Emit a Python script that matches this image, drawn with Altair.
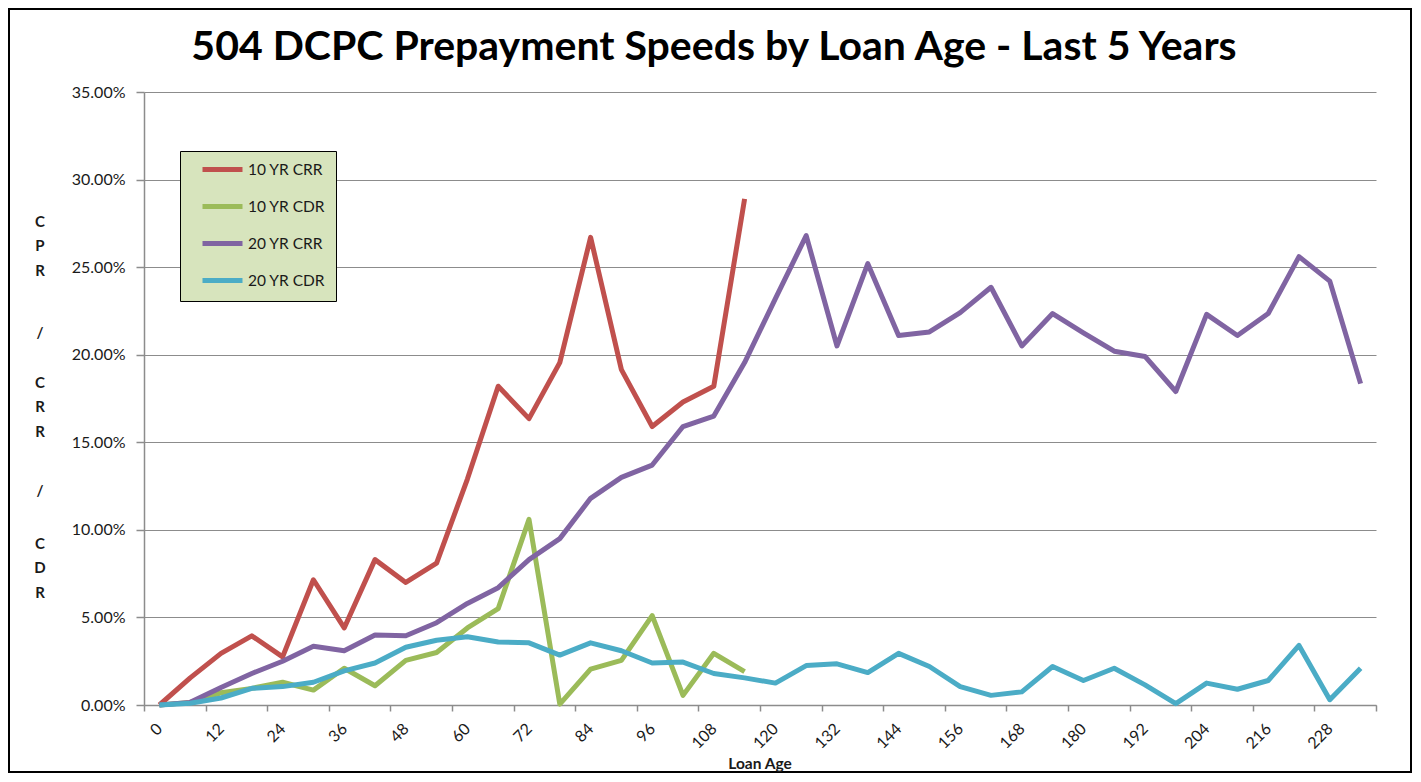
import altair as alt
import pandas as pd

ages = list(range(0, 240, 6))
series_names = ["10 YR CRR", "10 YR CDR", "20 YR CRR", "20 YR CDR"]
colors = ["#c0504d", "#9bbb59", "#8064a2", "#4bacc6"]

crr10 = [0, 1.55, 2.95, 3.95, 2.75, 7.15, 4.4, 8.3, 7.0, 8.1, 12.9, 18.2, 16.35, 19.55,
         26.7, 19.15, 15.9, 17.3, 18.2, 28.9]
cdr10 = [0, 0.15, 0.7, 0.95, 1.3, 0.85, 2.1, 1.1, 2.55, 3.0, 4.4, 5.5, 10.6, 0.05,
         2.05, 2.55, 5.1, 0.55, 2.95, 1.9]
crr20 = [0, 0.15, 1.0, 1.8, 2.5, 3.35, 3.1, 4.0, 3.95, 4.7, 5.8, 6.7, 8.3, 9.5, 11.8,
         13.0, 13.7, 15.9, 16.5, 19.55, 23.2, 26.8, 20.5, 25.2, 21.1, 21.3, 22.4, 23.85,
         20.5, 22.35, 21.25, 20.2, 19.9, 17.9, 22.3, 21.1, 22.35, 25.6, 24.2, 18.35]
cdr20 = [0, 0.1, 0.4, 0.95, 1.05, 1.3, 1.95, 2.4, 3.3, 3.7, 3.9, 3.6, 3.55, 2.85, 3.55,
         3.1, 2.4, 2.45, 1.8, 1.55, 1.25, 2.25, 2.35, 1.85, 2.95, 2.2, 1.05, 0.55, 0.75,
         2.2, 1.4, 2.1, 1.15, 0.08, 1.25, 0.9, 1.4, 3.4, 0.3, 2.1]

y_ticks = [0, 0.05, 0.10, 0.15, 0.20, 0.25, 0.30, 0.35]
x_label_vals = list(range(0, 229, 12))
x_tick_vals = list(range(-3, 238, 12))

title_text = "504 DCPC Prepayment Speeds by Loan Age - Last 5 Years"
y_title_blocks = [["C", "P", "R"], ["/"], ["C", "R", "R"], ["/"], ["C", "D", "R"]]
y_title_block_pos = [134.5, 245.5, 295.5, 403.5, 456.5]

rows = []
for name, vals in zip(series_names, [crr10, cdr10, crr20, cdr20]):
    for a, v in zip(ages, vals):
        rows.append({"age": a, "value": v / 100.0, "series": name})
df = pd.DataFrame(rows)

W, H = 1232, 613
FONT = "Lato"
GRAY = "#8c8c8c"
TXT = "#1a1a1a"
NB3 = "\u00a0\u00a0\u00a0"

x_enc = alt.X(
    "age:Q",
    scale=alt.Scale(domain=[-3, 237], nice=False, zero=False),
    axis=alt.Axis(
        values=sorted(set(x_label_vals + x_tick_vals)),
        labelExpr="(datum.value % 12 == 0) ? datum.label : ''",
        tickOpacity={"condition": {"test": "(datum.value + 3) % 12 == 0", "value": 1}, "value": 0},
        title=None,
        grid=False,
        labelAngle=-45,
        labelAlign="right",
        labelBaseline="middle",
        tickSize=6,
        labelPadding=15,
        labelOverlap=False,
        labelFlush=False,
    ),
)
y_enc = alt.Y(
    "value:Q",
    scale=alt.Scale(domain=[0, 0.35], nice=False),
    axis=alt.Axis(
        values=y_ticks,
        format=".2%",
        title=None,
        grid=True,
        tickSize=8,
        labelPadding=11,
    ),
)

lines = alt.Chart(df).mark_line(strokeWidth=5, strokeJoin="round").encode(
    x=x_enc,
    y=y_enc,
    color=alt.Color(
        "series:N",
        scale=alt.Scale(domain=series_names, range=colors),
        legend=alt.Legend(
            title=None,
            orient="none",
            legendX=36,
            legendY=59,
            fillColor="#d7e4bd",
            strokeColor="#000000",
            padding=10,
            symbolType="M-3.333,0H3.333",
            symbolSize=144,
            symbolStrokeWidth=5,
            symbolOffset=24,
            labelOffset=17,
            rowPadding=16,
            labelFont=FONT,
            labelFontSize=15.5,
            labelColor=TXT,
            labelExpr="datum.label + '" + NB3 + "'",
        ),
    ),
    order="age:Q",
)

border = alt.Chart(pd.DataFrame({"k": [0]})).mark_rect(
    fillOpacity=0, stroke="#000000", strokeWidth=2
).encode(
    x=alt.value(-135), x2=alt.value(W + 35), y=alt.value(-83), y2=alt.value(H + 67)
)

title = alt.Chart(pd.DataFrame({"t": [title_text]})).mark_text(
    font=FONT, fontSize=41, fontWeight="bold", color="#000000",
    align="center", baseline="alphabetic"
).encode(x=alt.value(570), y=alt.value(-32), text="t:N")

x_title = alt.Chart(pd.DataFrame({"t": ["Loan Age"]})).mark_text(
    font=FONT, fontSize=15.5, fontWeight="bold", color=TXT,
    align="center", baseline="alphabetic"
).encode(x=alt.value(W / 2), y=alt.value(H + 64), text="t:N")

y_title_layers = []
for block, ypos in zip(y_title_blocks, y_title_block_pos):
    y_title_layers.append(
        alt.Chart(pd.DataFrame({"k": [0]})).mark_text(
            font=FONT, fontSize=15, fontWeight="bold", color=TXT,
            align="center", baseline="alphabetic", lineHeight=24.7,
            text=block if len(block) > 1 else block[0],
        ).encode(x=alt.value(-104), y=alt.value(ypos))
    )

chart = alt.layer(border, lines, title, x_title, *y_title_layers).properties(
    width=W,
    height=H,
    padding={"left": 136, "top": 84, "right": 36, "bottom": 68},
    autosize=alt.AutoSizeParams(type="none"),
    background="white",
).configure_view(stroke=None).configure_axis(
    labelFont=FONT,
    labelFontSize=16,
    labelColor=TXT,
    domainColor=GRAY,
    tickColor=GRAY,
    gridColor=GRAY,
    gridWidth=1,
    domainWidth=1.5,
    tickWidth=1.5,
)

chart.save("out.html", embed_options={"renderer": "svg", "actions": False})
